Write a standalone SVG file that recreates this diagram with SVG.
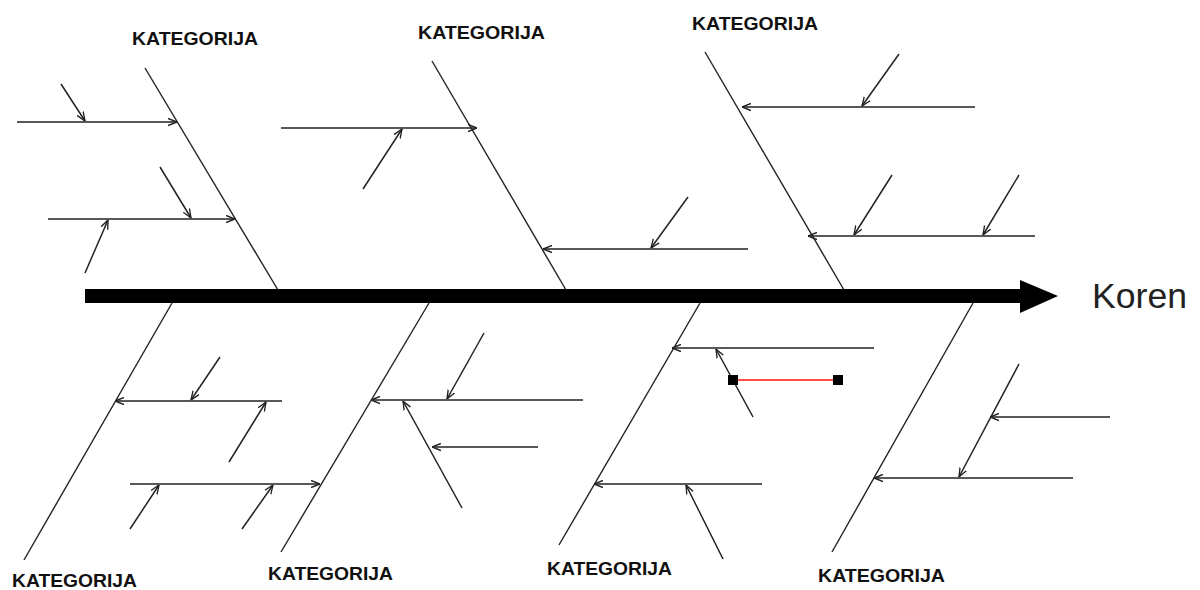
<svg xmlns="http://www.w3.org/2000/svg" width="1200" height="590" viewBox="0 0 1200 590">
<style>
.bone{stroke:#222;stroke-width:1.4;fill:none}
.br{stroke:#222;stroke-width:1.5;fill:none;marker-end:url(#a)}
.lbl{font-family:"Liberation Sans",Arial,sans-serif;font-weight:bold;font-size:19px;fill:#111}
</style>
<defs>
<marker id="a" viewBox="0 0 10 10" refX="10" refY="5" markerWidth="9" markerHeight="9" markerUnits="userSpaceOnUse" orient="auto">
<path d="M0,1 L10,5 L0,9" fill="none" stroke="#222" stroke-width="1.5"/>
</marker>
</defs>
<rect width="1200" height="590" fill="#fff"/>
<g id="spine">
<rect x="85" y="289" width="937" height="14" fill="#000"/>
<polygon points="1020,280 1058,296 1020,313" fill="#000"/>
</g>
<g id="head">
<text x="1092" y="308" font-family="'Liberation Sans',Arial,sans-serif" font-size="35" fill="#222" textLength="95" lengthAdjust="spacingAndGlyphs">Koren</text>
</g>
<g id="cat-top-1">
<line class="bone" x1="145" y1="68" x2="278" y2="290"/>
<text class="lbl" x="132" y="45" textLength="126" lengthAdjust="spacingAndGlyphs">KATEGORIJA</text>
</g>
<g id="cat-top-2">
<line class="bone" x1="432" y1="61" x2="566" y2="290"/>
<text class="lbl" x="418" y="39" textLength="127" lengthAdjust="spacingAndGlyphs">KATEGORIJA</text>
</g>
<g id="cat-top-3">
<line class="bone" x1="705" y1="52" x2="844" y2="290"/>
<text class="lbl" x="692" y="30" textLength="126" lengthAdjust="spacingAndGlyphs">KATEGORIJA</text>
</g>
<g id="cat-bot-1">
<line class="bone" x1="172" y1="303" x2="24" y2="560"/>
<text class="lbl" x="12" y="587" textLength="125" lengthAdjust="spacingAndGlyphs">KATEGORIJA</text>
</g>
<g id="cat-bot-2">
<line class="bone" x1="429" y1="303" x2="281" y2="552"/>
<text class="lbl" x="268" y="580" textLength="125" lengthAdjust="spacingAndGlyphs">KATEGORIJA</text>
</g>
<g id="cat-bot-3">
<line class="bone" x1="700" y1="303" x2="559" y2="545"/>
<text class="lbl" x="547" y="575" textLength="125" lengthAdjust="spacingAndGlyphs">KATEGORIJA</text>
</g>
<g id="cat-bot-4">
<line class="bone" x1="973" y1="303" x2="832" y2="552"/>
<text class="lbl" x="818" y="582" textLength="127" lengthAdjust="spacingAndGlyphs">KATEGORIJA</text>
</g>
<g id="connectors">
<line class="br" x1="17" y1="122" x2="177" y2="122"/>
<line class="br" x1="61" y1="84" x2="85" y2="121"/>
<line class="br" x1="48" y1="219" x2="235" y2="219"/>
<line class="br" x1="160" y1="167" x2="191" y2="218"/>
<line class="br" x1="85" y1="273" x2="108" y2="220"/>
<line class="br" x1="281" y1="128" x2="477" y2="128"/>
<line class="br" x1="363" y1="189" x2="402" y2="129"/>
<line class="br" x1="748" y1="249" x2="543" y2="249"/>
<line class="br" x1="688" y1="197" x2="651" y2="248"/>
<line class="br" x1="975" y1="107" x2="742" y2="107"/>
<line class="br" x1="899" y1="54" x2="862" y2="106"/>
<line class="br" x1="1035" y1="236" x2="808" y2="236"/>
<line class="br" x1="892" y1="175" x2="854" y2="235"/>
<line class="br" x1="1019" y1="175" x2="983" y2="235"/>
<line class="br" x1="282" y1="401" x2="115" y2="401"/>
<line class="br" x1="220" y1="357" x2="191" y2="400"/>
<line class="br" x1="229" y1="462" x2="266" y2="402"/>
<line class="br" x1="130" y1="484" x2="320" y2="484"/>
<line class="br" x1="130" y1="529" x2="159" y2="485"/>
<line class="br" x1="242" y1="529" x2="273" y2="485"/>
<line class="br" x1="583" y1="400" x2="371" y2="400"/>
<line class="br" x1="484" y1="333" x2="447" y2="399"/>
<line class="br" x1="462" y1="508" x2="403" y2="401"/>
<line class="br" x1="538" y1="447" x2="432" y2="447"/>
<line class="br" x1="874" y1="348" x2="672" y2="348"/>
<line class="br" x1="753" y1="417" x2="716" y2="349"/>
<line class="br" x1="762" y1="484" x2="594" y2="484"/>
<line class="br" x1="723" y1="559" x2="686" y2="485"/>
<line class="br" x1="1110" y1="417" x2="990" y2="417"/>
<line class="br" x1="1019" y1="364" x2="959" y2="477"/>
<line class="br" x1="1073" y1="478" x2="874" y2="478"/>
</g>
<g id="selection">
<line x1="733" y1="380" x2="838" y2="380" stroke="#ff1010" stroke-width="1.3"/>
<rect x="728" y="375" width="10" height="10" fill="#000"/>
<rect x="833" y="375" width="10" height="10" fill="#000"/>
</g>
</svg>
